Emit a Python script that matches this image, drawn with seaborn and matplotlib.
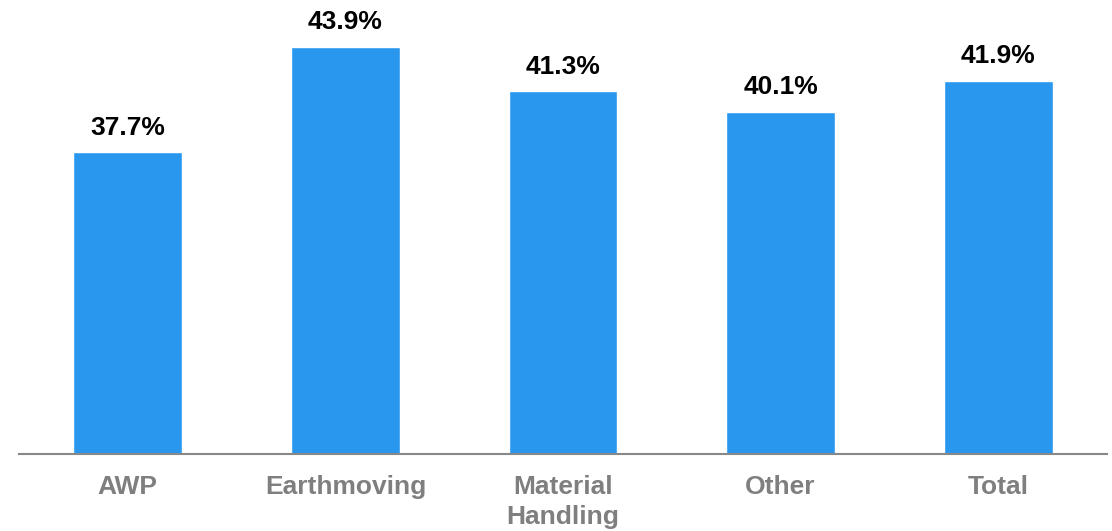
import matplotlib
matplotlib.use("Agg")
import matplotlib.pyplot as plt
import seaborn as sns
import pandas as pd

categories = ["AWP", "Earthmoving", "Material\nHandling", "Other", "Total"]
values = [37.7, 43.9, 41.3, 40.1, 41.9]

sns.set_theme(style="white")
plt.rcParams["font.family"] = ["Liberation Sans", "DejaVu Sans"]

df = pd.DataFrame({"segment": categories, "margin": values})

fig = plt.figure(figsize=(11.12, 5.31), dpi=100)
ax = fig.add_axes([19 / 1112, 77 / 531, 1088 / 1112, 454 / 531])

sns.barplot(data=df, x="segment", y="margin", color="#2A97EF", saturation=1,
            width=0.5, ax=ax, zorder=2)

ax.set_ylim(20, 46.65)
ax.set_xlim(-0.5, 4.5)

for i, v in enumerate(values):
    ax.annotate(f"{v:.1f}%", xy=(i, v), xytext=(0, 9), textcoords="offset points",
                ha="center", va="bottom", fontsize=19, fontweight="heavy",
                color="black")

for side in ["top", "right", "left"]:
    ax.spines[side].set_visible(False)
ax.spines["bottom"].set_color("#888888")
ax.spines["bottom"].set_linewidth(1.5)
ax.spines["bottom"].set_zorder(3)

ax.set_yticks([])
ax.set_xlabel("")
ax.set_ylabel("")
ax.tick_params(axis="x", length=0, pad=15)
for lbl in ax.get_xticklabels():
    lbl.set_fontsize(19)
    lbl.set_fontweight("heavy")
    lbl.set_color("#7F7F7F")
    lbl.set_linespacing(1.35)

fig.savefig("out.png", dpi=100)
